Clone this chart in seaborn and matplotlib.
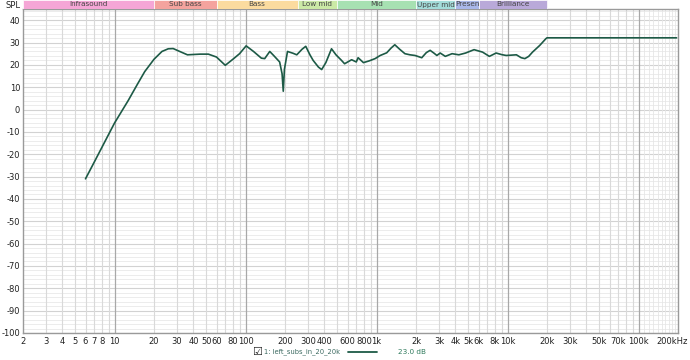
import numpy as np
import pandas as pd
import matplotlib
matplotlib.use("Agg")
import matplotlib.pyplot as plt
import matplotlib.transforms as mtransforms
import seaborn as sns
from matplotlib.patches import Rectangle

# ---- data ----
freq_hz = [6, 7, 10, 12.7, 15, 17, 20, 23, 25.7, 28, 32, 36, 45, 52, 60, 70, 80, 90, 101,
           115, 132, 140, 153, 165, 182, 190, 194, 198, 209, 230, 246, 270, 288, 310, 328,
           360, 381, 410, 453, 490, 540, 570, 645, 700, 723, 794, 880, 975, 1066, 1195,
           1290, 1378, 1500, 1646, 1800, 1966, 2213, 2400, 2564, 2750, 2886, 3060, 3348,
           3770, 4247, 4784, 5550, 6445, 7263, 8177, 9000, 9760, 11680, 12700, 13560,
           14500, 15500, 17600, 19600, 20000, 195000]
spl_db = [-31, -23.5, -6, 4, 11.5, 17, 22.5, 26, 27.2, 27.3, 25.8, 24.5, 24.8, 24.8, 23.5,
          19.8, 22.5, 25, 28.5, 26, 23, 22.8, 26, 24, 21.3, 16, 8.2, 18, 26, 25.2, 24.5,
          27, 28.3, 24.5, 22, 19, 17.9, 21, 27.2, 24.5, 22, 20.5, 22.3, 21.3, 23.2, 21,
          21.8, 22.8, 24.2, 25.4, 27.5, 29, 27, 25, 24.5, 24.2, 23.2, 25.5, 26.5, 25.2,
          24.2, 25.3, 23.8, 25, 24.5, 25.3, 26.8, 25.7, 23.8, 25.3, 24.6, 24.2, 24.5,
          23.2, 22.8, 23.8, 25.7, 28.7, 31.7, 32.1, 32.1]

band_names = ["Infrasound", "Sub bass", "Bass", "Low mid", "Mid", "Upper mid", "Presen", "Brilliance"]
band_edges = [2, 20, 60, 250, 500, 2000, 4000, 6000, 20000]
band_colors = ["#f5a6d6", "#f4a39e", "#fbdb9f", "#cbe9a6", "#a7e1b2", "#a3dcd9", "#a9b7e8", "#b9a9d9"]

x_tick_values = [2, 3, 4, 5, 6, 7, 8, 10, 20, 30, 40, 50, 60, 80, 100, 200, 300, 400, 600, 800,
                 1000, 2000, 3000, 4000, 5000, 6000, 8000, 10000, 20000, 30000, 50000, 70000,
                 100000, 200000]
x_tick_labels = ["2", "3", "4", "5", "6", "7", "8", "10", "20", "30", "40", "50", "60", "80",
                 "100", "200", "300", "400", "600", "800", "1k", "2k", "3k", "4k", "5k", "6k",
                 "8k", "10k", "20k", "30k", "50k", "70k", "100k", "200kHz"]
y_ticks = list(range(40, -101, -10))

series_label = "1: left_subs_in_20_20k"
series_value = "23.0 dB"
line_color = "#1d5a46"

df = pd.DataFrame({"freq": freq_hz, "spl": spl_db})

sns.set_theme(style="white")
plt.rcParams["font.family"] = ["DejaVu Sans"]

fig = plt.figure(figsize=(6.9, 3.6), dpi=100)
L, R = 23 / 690, 678 / 690
B, T = 1 - 333 / 360, 1 - 9 / 360
ax = fig.add_axes([L, B, R - L, T - B])

ax.set_xscale("log")
ax.set_xlim(2, 200000)
ax.set_ylim(-100, 45)

# grid lines
for v in range(-100, 46, 2):
    ax.axhline(v, color="#ececec", lw=0.7, zorder=0)
for v in range(-100, 41, 10):
    ax.axhline(v, color="#d2d2d2", lw=0.8, zorder=0)
for m in range(11, 20):
    ax.axvline(m * 10000, color="#e6e6e6", lw=0.6, zorder=0)
for d in [1, 10, 100, 1000, 10000]:
    for m in range(2, 10):
        v = m * d
        if 2 < v < 200000:
            ax.axvline(v, color="#d9d9d9", lw=0.8, zorder=0)
for v in [10, 100, 1000, 10000, 100000]:
    ax.axvline(v, color="#a8a8a8", lw=0.9, zorder=0)

sns.lineplot(data=df, x="freq", y="spl", ax=ax, color=line_color, lw=1.2,
             estimator=None, sort=False, zorder=3)

ax.set_xticks(x_tick_values)
ax.set_xticklabels(x_tick_labels)
ax.xaxis.set_minor_locator(matplotlib.ticker.NullLocator())
ax.set_yticks(y_ticks)
ax.set_yticklabels([str(v) for v in y_ticks])
ax.tick_params(axis="both", length=0, labelsize=6, colors="#222222", pad=3)
ax.tick_params(axis="y", pad=2)
ax.set_xlabel("")
ax.set_ylabel("")
shift = mtransforms.ScaledTranslation(10 / 100, 0, fig.dpi_scale_trans)
for lab in ax.get_xticklabels():
    if lab.get_text() == "200kHz":
        lab.set_horizontalalignment("right")
        lab.set_transform(lab.get_transform() + shift)
for s in ax.spines.values():
    s.set_color("#9a9a9a")
    s.set_linewidth(1.0)

# frequency band bar at top
bax = fig.add_axes([L, 1 - 9 / 360, R - L, 9 / 360])
bax.set_xscale("log")
bax.set_xlim(2, 200000)
bax.set_ylim(0, 1)
bax.axis("off")
for i, name in enumerate(band_names):
    x0, x1 = band_edges[i], band_edges[i + 1]
    bax.add_patch(Rectangle((x0, 0.05), x1 - x0, 0.95, facecolor=band_colors[i],
                            edgecolor="white", lw=0.5))
    xc = np.sqrt(x0 * x1)
    bax.text(xc, 0.5, name, ha="center", va="center", fontsize=5.2, color="#444444")

fig.text(6 / 690, 1 - 5 / 360, "SPL", fontsize=6, ha="left", va="center", color="#222222")

# legend row at bottom
fig.text(257 / 690, 1 - 352 / 360, "\u2611", fontsize=8, ha="center", va="center", color="#222222")
fig.text(264 / 690, 1 - 352 / 360, series_label, fontsize=4.9, ha="left", va="center",
         color="#3d6b62")
fig.add_artist(plt.Line2D([348 / 690, 377 / 690], [1 - 352 / 360, 1 - 352 / 360],
                          color=line_color, lw=1.3, transform=fig.transFigure))
fig.text(398 / 690, 1 - 352 / 360, series_value, fontsize=5.2, ha="left", va="center",
         color="#2e7a5c")

fig.savefig("out.png", dpi=100)
